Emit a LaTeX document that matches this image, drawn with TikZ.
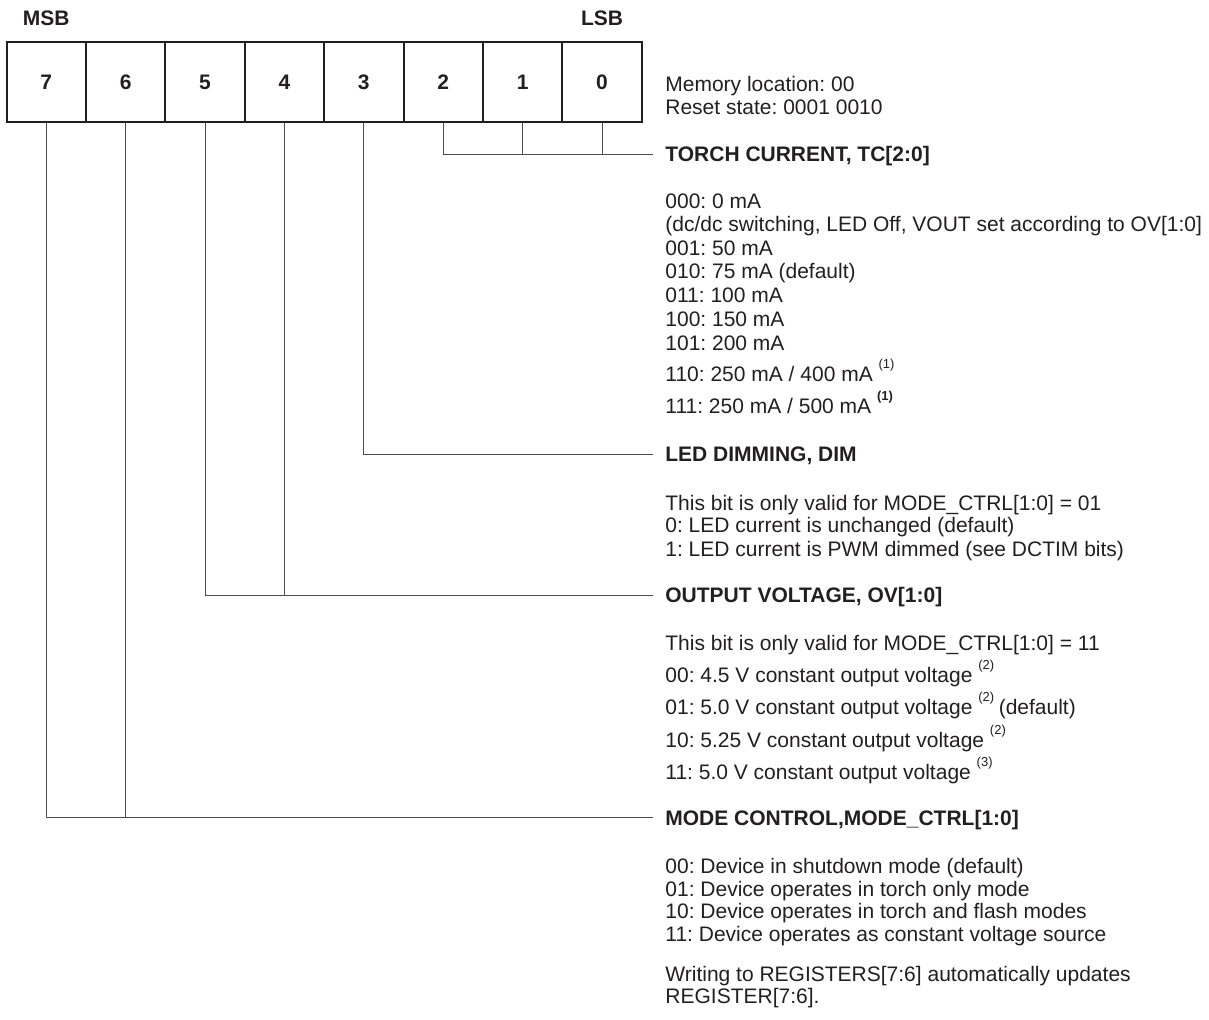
\documentclass[tikz,border=0pt]{standalone}
\usepackage{fontspec}
\setmainfont{Liberation Sans}
\usetikzlibrary{positioning}
\definecolor{ink}{HTML}{231F20}
\newcommand{\regfont}{\fontsize{10.5}{12}\selectfont\frenchspacing}
\newcommand{\fnmark}[1]{\raisebox{6.5pt}{\fontsize{6.5}{7}\selectfont(#1)}}
\newcommand{\fnmarkbold}[1]{\raisebox{6.5pt}{\fontsize{6.5}{7}\selectfont\bfseries(#1)}}
\tikzset{
  bitcell/.style={draw=ink, line width=1pt, minimum size=39.7pt, inner sep=0pt, text=ink, font=\regfont\bfseries},
  bitlabel/.style={inner sep=0pt, text=ink, font=\regfont\bfseries},
  fieldhead/.style={anchor=west, inner xsep=6pt, inner ysep=0pt, text height=7.5pt, text depth=0pt, text=ink, font=\regfont\bfseries},
  desc/.style={anchor=base west, inner sep=0pt, text=ink, font=\regfont},
  wire/.style={draw=ink!80, line width=0.5pt}
}

\begin{document}
\begin{tikzpicture}[x=0.5pt, y=-0.5pt]
  \useasboundingbox (0,0) rectangle (1209,1019);

  % register bits
  \foreach \i in {0,...,7}
    \node[bitcell] (b\i) at ({602-79.4*\i},82) {\i};
  \node[bitlabel, above=7.5pt of b7] (msb) {MSB};
  \node[bitlabel, above=7.5pt of b0] (lsb) {LSB};

  \node[desc] (memloc) at (665,91.7) {Memory location: 00};
  \node[desc] (reset) at (665,114.3) {Reset state: 0001 0010};

  % field headings
  \node[fieldhead] (tc) at (653,154.2) {TORCH CURRENT, TC[2:0]};
  \node[fieldhead] (dim) at (653,454.2) {LED DIMMING, DIM};
  \node[fieldhead] (ov) at (653,595.2) {OUTPUT VOLTAGE, OV[1:0]};
  \node[fieldhead] (mode) at (653,817.5) {MODE CONTROL,MODE\_CTRL[1:0]};

  % bit lines
  \draw[wire] (b2.south) |- (tc.west);
  \draw[wire] (b1.south) -- (b1.south |- tc.west);
  \draw[wire] (b0.south) -- (b0.south |- tc.west);
  \draw[wire] (b3.south) |- (dim.west);
  \draw[wire] (b5.south) |- (ov.west);
  \draw[wire] (b4.south) -- (b4.south |- ov.west);
  \draw[wire] (b7.south) |- (mode.west);
  \draw[wire] (b6.south) -- (b6.south |- mode.west);

  % descriptions
  \foreach \y/\txt [count=\k] in {
      208.3/{000: 0 mA},
      231.7/{(dc/dc switching, LED Off, VOUT set according to OV[1:0]},
      255/{001: 50 mA},
      278.3/{010: 75 mA (default)},
      302.7/{011: 100 mA},
      326.7/{100: 150 mA},
      350.7/{101: 200 mA},
      381.7/{110: 250 mA / 400 mA \fnmark{1}},
      413.3/{111: 250 mA / 500 mA \fnmarkbold{1}}}
    \node[desc] (tcdesc\k) at (665,\y) {\txt};

  \foreach \y/\txt [count=\k] in {
      510/{This bit is only valid for MODE\_CTRL[1:0] = 01},
      532.7/{0: LED current is unchanged (default)},
      556/{1: LED current is PWM dimmed (see DCTIM bits)}}
    \node[desc] (dimdesc\k) at (665,\y) {\txt};

  \foreach \y/\txt [count=\k] in {
      650.7/{This bit is only valid for MODE\_CTRL[1:0] = 11},
      682.7/{00: 4.5 V constant output voltage \fnmark{2}},
      714/{01: 5.0 V constant output voltage \fnmark{2}\hspace{2.3pt}(default)},
      747.3/{10: 5.25 V constant output voltage \fnmark{2}},
      779.3/{11: 5.0 V constant output voltage \fnmark{3}}}
    \node[desc] (ovdesc\k) at (665,\y) {\txt};

  \foreach \y/\txt [count=\k] in {
      873.3/{00: Device in shutdown mode (default)},
      896/{01: Device operates in torch only mode},
      918.3/{10: Device operates in torch and flash modes},
      941.7/{11: Device operates as constant voltage source},
      981.7/{Writing to REGISTERS[7:6] automatically updates},
      1003.3/{REGISTER[7:6].}}
    \node[desc] (modedesc\k) at (665,\y) {\txt};
\end{tikzpicture}
\end{document}
